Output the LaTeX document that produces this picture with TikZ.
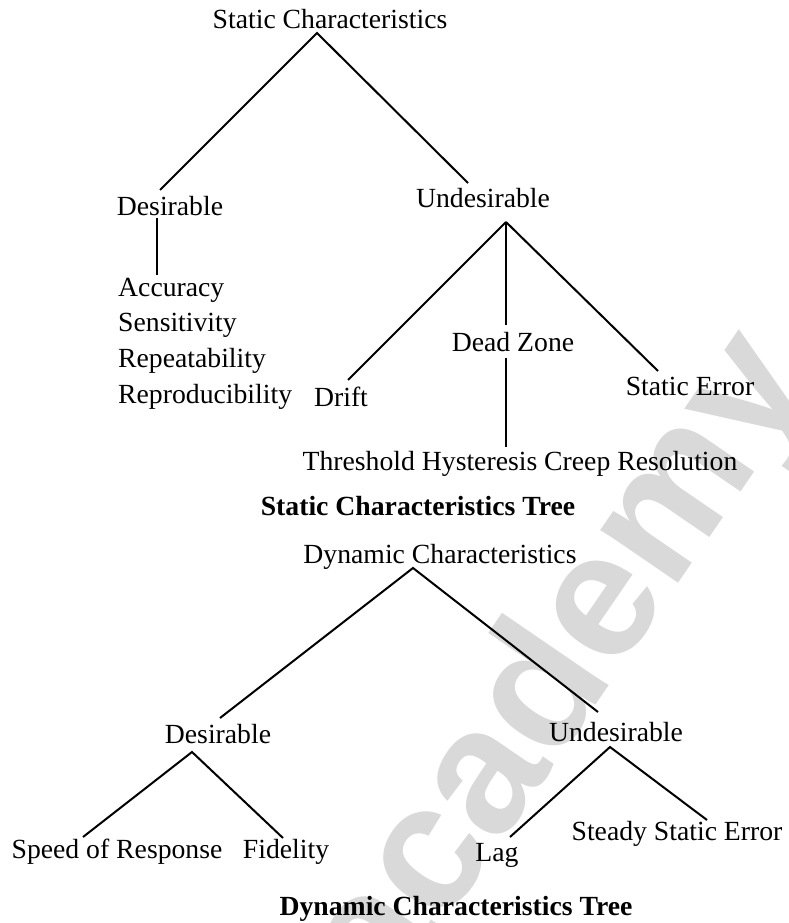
\documentclass[tikz,border=0pt]{standalone}
\usepackage{fontspec}
\setmainfont{Liberation Serif}
\newfontfamily\wmfont{Liberation Sans}
\begin{document}
\begin{tikzpicture}[x=1pt,y=-1pt,
  lbl/.style={inner sep=0pt, anchor=base, font=\fontsize{27.7}{33}\selectfont},
  ttl/.style={inner sep=0pt, anchor=base, font=\bfseries\fontsize{27.7}{33}\selectfont},
  edge/.style={line width=2pt},
  wm/.style={inner sep=0pt, rotate=55.6, text=black!15, font=\wmfont\bfseries\fontsize{178}{178}\selectfont}]
\useasboundingbox (0,0) rectangle (788,923);
% watermark
\node[wm] (wmark) at (564,670) {academy};
% ---------- static tree ----------
\node[lbl] (sc) at (330,29) {Static Characteristics};
\node[lbl] (sdes) at (170,215) {Desirable};
\node[lbl] (sund) at (483,207) {Undesirable};
\node[lbl, anchor=base west] (acc) at (118,296) {Accuracy};
\node[lbl, anchor=base west] (sen) at (118,331) {Sensitivity};
\node[lbl, anchor=base west] (rep) at (118,367) {Repeatability};
\node[lbl, anchor=base west] (rpr) at (118,403) {Reproducibility};
\node[lbl] (drift) at (341,406) {Drift};
\node[lbl] (dz) at (513,351) {Dead Zone};
\node[lbl] (serr) at (690,395) {Static Error};
\node[lbl] (thr) at (520,470) {Threshold Hysteresis Creep Resolution};
\node[ttl] (stitle) at (418,515) {Static Characteristics Tree};
\coordinate (scA) at (317,33);
\coordinate (sdesT) at (160,190);
\coordinate (sundT) at (468,183);
\coordinate (sdesB) at (157,218);
\coordinate (accT) at (157,275);
\coordinate (sundA) at (506,222);
\coordinate (driftT) at (348,380);
\coordinate (dzT) at (506,325);
\coordinate (serrT) at (658,371);
\coordinate (dzB) at (506,358);
\coordinate (thrT) at (506,447);
\draw[edge] (sdesT) -- (scA) -- (sundT);
\draw[edge] (sdesB) -- (accT);
\draw[edge] (sundA) -- (driftT);
\draw[edge] (sundA) -- (dzT);
\draw[edge] (sundA) -- (serrT);
\draw[edge] (dzB) -- (thrT);
% ---------- dynamic tree ----------
\node[lbl] (dc) at (440,563) {Dynamic Characteristics};
\node[lbl] (ddes) at (218,743) {Desirable};
\node[lbl] (dund) at (616,741) {Undesirable};
\node[lbl] (speed) at (117,858) {Speed of Response};
\node[lbl] (fid) at (286,858) {Fidelity};
\node[lbl] (lag) at (497,861) {Lag};
\node[lbl] (sse) at (677,840) {Steady Static Error};
\node[ttl] (dtitle) at (456,915) {Dynamic Characteristics Tree};
\coordinate (dcA) at (413,568);
\coordinate (ddesT) at (220,718);
\coordinate (dundT) at (598,712);
\coordinate (ddesA) at (192,752);
\coordinate (speedT) at (83,837);
\coordinate (fidT) at (283,838);
\coordinate (dundA) at (610,747);
\coordinate (lagT) at (510,837);
\coordinate (sseT) at (707,820);
\draw[edge] (ddesT) -- (dcA) -- (dundT);
\draw[edge] (speedT) -- (ddesA) -- (fidT);
\draw[edge] (lagT) -- (dundA) -- (sseT);
\end{tikzpicture}
\end{document}
